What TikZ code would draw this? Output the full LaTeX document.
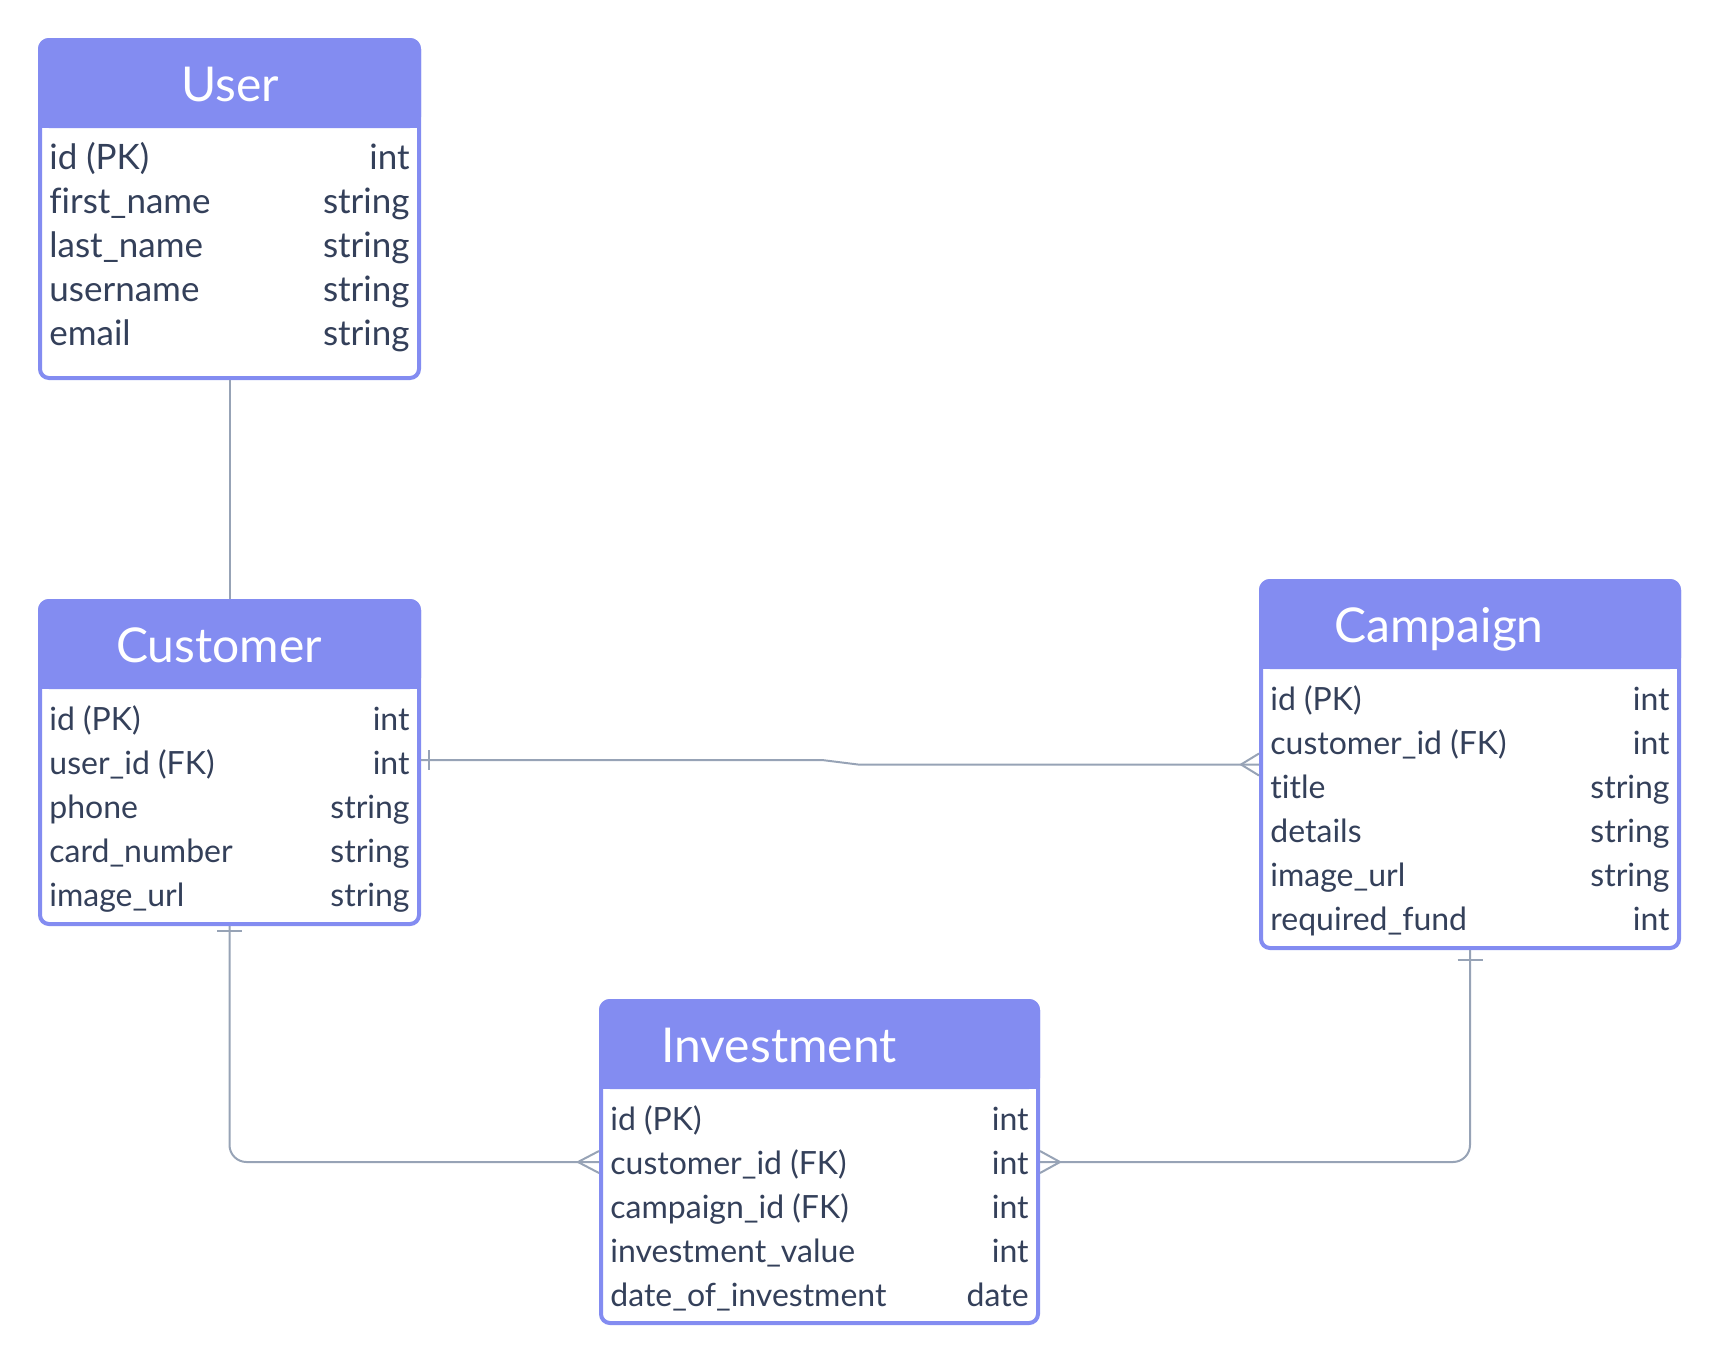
\documentclass[tikz,border=0pt]{standalone}
\usepackage{fontspec}
\setmainfont{Lato}[Ligatures=CommonOff]
\usetikzlibrary{calc}
\definecolor{hdrblue}{HTML}{838CF1}
\definecolor{linegray}{HTML}{97A3B6}
\definecolor{inkslate}{HTML}{34405A}
\tikzset{
  tablebox/.style={draw=hdrblue, line width=2pt, fill=white, rounded corners=4.5pt,
    inner sep=0pt, anchor=north west},
  tabletitle/.style={anchor=base, text=white, inner sep=0pt,
    font=\fontsize{24}{29}\selectfont},
  fieldname/.style={anchor=base west, text=inkslate, inner sep=0pt,
    font=\fontsize{16}{20}\selectfont},
  fieldtype/.style={anchor=base east, text=inkslate, inner sep=0pt,
    font=\fontsize{16}{20}\selectfont},
  bigfield/.style={font=\fontsize{17.5}{21}\selectfont},
  relation/.style={draw=linegray, line width=1pt},
}
\begin{document}
\begin{tikzpicture}[x=0.5pt, y=-0.5pt]
  \useasboundingbox (0,0) rectangle (1720,1367);

  % tables
  \path
  (38,38) node[tablebox, minimum width=189.5pt, minimum height=169pt] (user) {}
  (38,599) node[tablebox, minimum width=189.5pt, minimum height=161.5pt] (customer) {}
  (1259,579) node[tablebox, minimum width=209pt, minimum height=183.5pt] (campaign) {}
  (599,999) node[tablebox, minimum width=218.5pt, minimum height=161pt] (investment) {};

  % headers
  \foreach \t in {user, customer, campaign, investment} {
    \fill[hdrblue, rounded corners=5.5pt] (\t.north west) rectangle ($(\t.north east)+(0,90)$);
    \fill[hdrblue] ($(\t.north west)+(0,60)$) rectangle ($(\t.north east)+(0,90)$);
  }
  \node[tabletitle] (user-title) at (230,101) {User};
  \node[tabletitle] (customer-title) at (219,662) {Customer};
  \node[tabletitle] (campaign-title) at (1439,642) {Campaign};
  \node[tabletitle] (investment-title) at (779,1062) {Investment};

  % fields
  \foreach \f/\t [count=\i from 0] in {id (PK)/int, first\_name/string,
      last\_name/string, username/string, email/string} {
    \node[fieldname, bigfield] (user-f\i) at (49,169+44*\i) {\f};
    \node[fieldtype, bigfield] (user-t\i) at (410,169+44*\i) {\t};
  }
  \foreach \f/\t [count=\i from 0] in {id (PK)/int, user\_id (FK)/int,
      phone/string, card\_number/string, image\_url/string} {
    \node[fieldname] (customer-f\i) at (49,730+44*\i) {\f};
    \node[fieldtype] (customer-t\i) at (410,730+44*\i) {\t};
  }
  \foreach \f/\t [count=\i from 0] in {id (PK)/int, customer\_id (FK)/int,
      title/string, details/string, image\_url/string, required\_fund/int} {
    \node[fieldname] (campaign-f\i) at (1270,710+44*\i) {\f};
    \node[fieldtype] (campaign-t\i) at (1670,710+44*\i) {\t};
  }
  \foreach \f/\t [count=\i from 0] in {id (PK)/int, customer\_id (FK)/int,
      campaign\_id (FK)/int, investment\_value/int, date\_of\_investment/date} {
    \node[fieldname] (investment-f\i) at (610,1130+44*\i) {\f};
    \node[fieldtype] (investment-t\i) at (1029,1130+44*\i) {\t};
  }

  % relations
  \draw[relation] (user.south) -- (customer.north);
  \draw[relation] ($(customer.east)+(0,-2.5)$) -- (822,760) -- (858,764.5) -- (campaign.west);
  \draw[relation, rounded corners=8.5pt] (customer.south) |- (investment.west);
  \draw[relation, rounded corners=8.5pt] (campaign.south) |- (investment.east);

  % one
  \draw[relation] ($(customer.east)+(8,-12.5)$) -- ++(0,20);
  \draw[relation] ($(customer.south)+(-12.5,5)$) -- ++(25,0);
  \draw[relation] ($(campaign.south)+(-12.5,10)$) -- ++(25,0);
  % many
  \draw[relation] ($(campaign.west)+(0,-11)$) -- ++(-18,11) -- ++(18,11);
  \draw[relation] ($(investment.west)+(0,-11)$) -- ++(-21,11) -- ++(21,11);
  \draw[relation] ($(investment.east)+(0,-11)$) -- ++(20,11) -- ++(-20,11);
\end{tikzpicture}
\end{document}
